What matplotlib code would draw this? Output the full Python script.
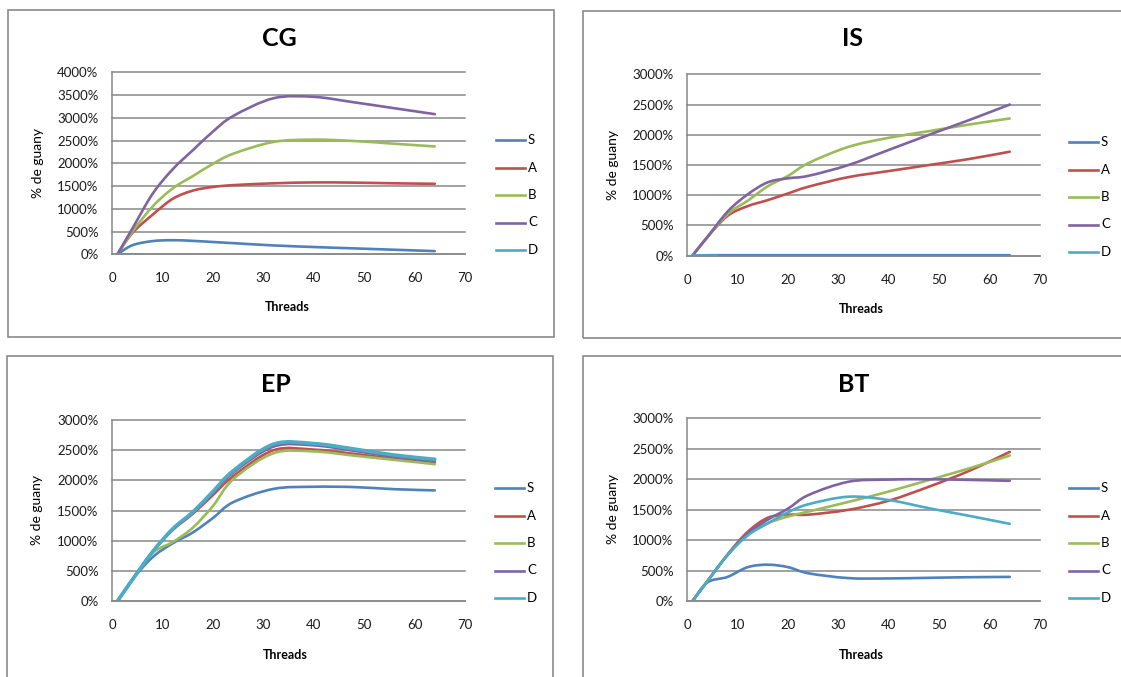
"""NAS 벤치마크 4종 (CG, IS, EP, BT) — 스레드 수에 따른 % de guany (Excel 스타일 재현)"""
import matplotlib
matplotlib.use("Agg")
import matplotlib.pyplot as plt
import numpy as np
from matplotlib.path import Path
from matplotlib.patches import PathPatch, Rectangle
from matplotlib.lines import Line2D
from matplotlib.ticker import FuncFormatter, MultipleLocator

plt.rcParams["font.family"] = ["Lato", "DejaVu Sans"]

W, H = 1121, 677

# === Data ===
THREADS = [1, 4, 8, 12, 16, 20, 24, 32, 40, 48, 56, 64]
THREADS_D_SHORT = [1, 4, 6]
SERIES = ["S", "A", "B", "C", "D"]

CG_S = [0, 200, 290, 310, 295, 270, 245, 195, 160, 130, 100, 70]
CG_A = [0, 470, 870, 1220, 1400, 1480, 1520, 1560, 1580, 1575, 1560, 1550]
CG_B = [0, 500, 1050, 1450, 1720, 1990, 2210, 2470, 2520, 2490, 2430, 2370]
CG_C = [0, 570, 1330, 1870, 2290, 2700, 3040, 3430, 3460, 3340, 3210, 3080]
CG_D = [0, 0, 0]

IS_S = [0, 8, 8, 8, 8, 8, 8, 8, 8, 8, 8, 8]
IS_A = [0, 310, 660, 820, 920, 1030, 1140, 1300, 1400, 1500, 1600, 1720]
IS_B = [0, 310, 690, 910, 1150, 1320, 1530, 1800, 1950, 2060, 2170, 2270]
IS_C = [0, 310, 730, 1015, 1215, 1280, 1320, 1500, 1750, 2000, 2245, 2500]
IS_D = [0, 0, 0]

EP_S = [0, 360, 730, 960, 1140, 1380, 1640, 1860, 1895, 1890, 1855, 1835]
EP_A = [0, 360, 820, 1180, 1450, 1760, 2070, 2500, 2510, 2440, 2360, 2300]
EP_B = [0, 360, 800, 980, 1220, 1580, 2020, 2450, 2480, 2410, 2340, 2270]
EP_C = [0, 360, 820, 1190, 1470, 1800, 2130, 2560, 2580, 2490, 2390, 2320]
EP_D = [0, 360, 820, 1200, 1480, 1820, 2160, 2600, 2610, 2520, 2420, 2350]

BT_S = [0, 310, 400, 560, 600, 560, 460, 380, 375, 385, 395, 400]
BT_A = [0, 330, 770, 1140, 1370, 1420, 1420, 1500, 1650, 1880, 2140, 2450]
BT_B = [0, 330, 760, 1100, 1280, 1390, 1470, 1630, 1800, 1990, 2180, 2390]
BT_C = [0, 330, 760, 1110, 1340, 1520, 1740, 1960, 1995, 2000, 1990, 1975]
BT_D = [0, 330, 760, 1080, 1280, 1460, 1590, 1715, 1660, 1525, 1400, 1270]

COLORS = {"S": "#4F81BD", "A": "#C0504D", "B": "#9BBB59", "C": "#8064A2", "D": "#4BACC6"}
GRID = "#888888"

# 패널 배치 (픽셀 좌표): box, plot area, title, labels, legend
PANELS = [
    dict(title="CG", ymax=4000, box=(8, 10, 554, 337), ax=(112.3, 72.3, 465.0, 254.3),
         title_xy=(279, 38), ylab_xy=(38, 163), xlab_xy=(287, 307), leg=(496, 140),
         series={"S": (THREADS, CG_S), "A": (THREADS, CG_A), "B": (THREADS, CG_B),
                 "C": (THREADS, CG_C), "D": (THREADS_D_SHORT, CG_D)}),
    dict(title="IS", ymax=3000, box=(583, 11, 1130, 338), ax=(687.3, 74.3, 1040.0, 255.7),
         title_xy=(853, 39), ylab_xy=(613, 165), xlab_xy=(861, 309), leg=(1069, 142),
         series={"S": (THREADS, IS_S), "A": (THREADS, IS_A), "B": (THREADS, IS_B),
                 "C": (THREADS, IS_C), "D": (THREADS_D_SHORT, IS_D)}),
    dict(title="EP", ymax=3000, box=(6.5, 356, 553, 690), ax=(112.3, 420.0, 465.0, 601.3),
         title_xy=(276, 384), ylab_xy=(37, 510), xlab_xy=(285, 655), leg=(495, 488),
         series={"S": (THREADS, EP_S), "A": (THREADS, EP_A), "B": (THREADS, EP_B),
                 "C": (THREADS, EP_C), "D": (THREADS, EP_D)}),
    dict(title="BT", ymax=3000, box=(583, 356, 1130, 690), ax=(687.3, 418.3, 1040.0, 601.3),
         title_xy=(854, 384), ylab_xy=(613, 509), xlab_xy=(861, 655), leg=(1069, 488),
         series={"S": (THREADS, BT_S), "A": (THREADS, BT_A), "B": (THREADS, BT_B),
                 "C": (THREADS, BT_C), "D": (THREADS, BT_D)}),
]


def fx(px):
    return px / W


def fy(py):
    return 1 - py / H


def smooth_path(x, y):
    """Excel '선 부드럽게' 비슷하게: Catmull-Rom → cubic Bezier."""
    P = np.column_stack([x, y]).astype(float)
    n = len(P)
    verts, codes = [P[0]], [Path.MOVETO]
    for i in range(n - 1):
        p0 = P[i - 1] if i > 0 else P[i]
        p3 = P[i + 2] if i + 2 < n else P[i + 1]
        c1 = P[i] + (P[i + 1] - p0) / 6
        c2 = P[i + 1] - (p3 - P[i]) / 6
        verts += [c1, c2, P[i + 1]]
        codes += [Path.CURVE4] * 3
    return Path(verts, codes)


fig = plt.figure(figsize=(W / 100, H / 100), dpi=100)
fig.patch.set_facecolor("white")

for p in PANELS:
    x0, y0, x1, y1 = p["box"]
    fig.add_artist(Rectangle((fx(x0), fy(y1)), fx(x1) - fx(x0), fy(y0) - fy(y1),
                             transform=fig.transFigure, fill=False, ec="#8a8a8a", lw=1.2))

    l, t, r, b = p["ax"]
    ax = fig.add_axes([fx(l), fy(b), fx(r) - fx(l), fy(t) - fy(b)])
    ax.set_xlim(0, 70)
    ax.set_ylim(0, p["ymax"])
    ax.xaxis.set_major_locator(MultipleLocator(10))
    ax.yaxis.set_major_locator(MultipleLocator(500))
    ax.yaxis.set_major_formatter(FuncFormatter(lambda v, _: f"{int(v)}%"))
    ax.tick_params(length=0, labelsize=9.5, colors="#1a1a1a")
    ax.tick_params(axis="y", pad=10)
    ax.tick_params(axis="x", pad=13)
    ax.grid(axis="y", color=GRID, lw=1.1)
    ax.set_axisbelow(True)
    for gl in ax.get_ygridlines():
        gl.set_clip_on(False)
    for side in ("top", "right"):
        ax.spines[side].set_visible(False)
    for side in ("left", "bottom"):
        ax.spines[side].set_color(GRID)
        ax.spines[side].set_linewidth(1.1)

    for name in SERIES:
        xs, ys = p["series"][name]
        lw = 2.6 if (p["title"] == "EP" and name == "D") else 1.9
        ax.add_patch(PathPatch(smooth_path(xs, ys), fill=False, ec=COLORS[name],
                               lw=lw, capstyle="round", joinstyle="round"))

    fig.text(fx(p["title_xy"][0]), fy(p["title_xy"][1]), p["title"], ha="center",
             va="center", fontsize=18, fontweight="bold")
    fig.text(fx(p["ylab_xy"][0]), fy(p["ylab_xy"][1]), "% de guany", rotation=90,
             ha="center", va="center", fontsize=10)
    fig.text(fx(p["xlab_xy"][0]), fy(p["xlab_xy"][1]), "Threads", ha="center",
             va="center", fontsize=9, fontweight="bold")

    lx, ly = p["leg"]
    for k, name in enumerate(SERIES):
        yy = ly + k * 27.5
        fig.add_artist(Line2D([fx(lx), fx(lx + 29)], [fy(yy), fy(yy)],
                              transform=fig.transFigure, color=COLORS[name], lw=1.9))
        fig.text(fx(lx + 32), fy(yy), name, ha="left", va="center", fontsize=9.5)

fig.savefig("out.png", dpi=100)
